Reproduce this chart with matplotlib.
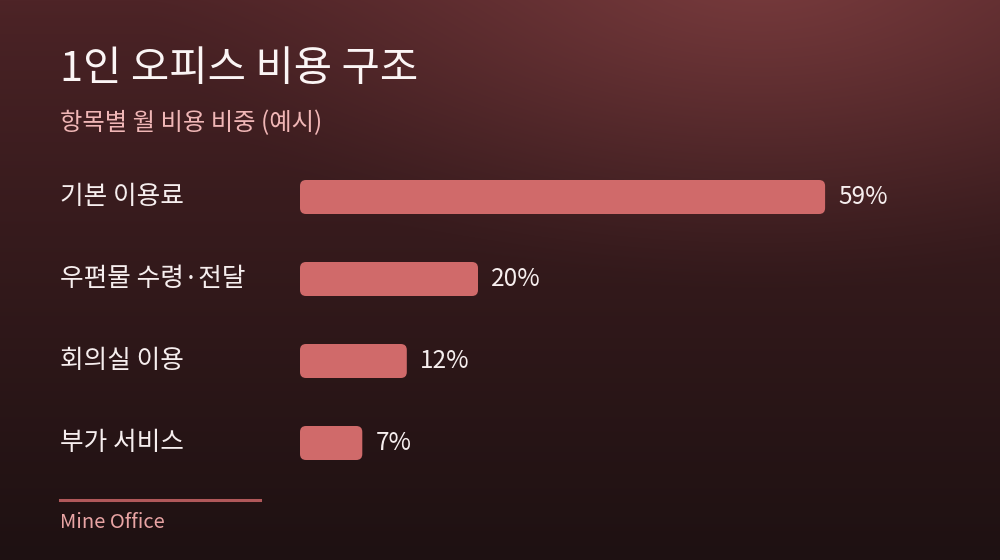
import numpy as np
import matplotlib

matplotlib.use("Agg")
import matplotlib.pyplot as plt
from matplotlib.patches import FancyBboxPatch
from matplotlib.colors import to_rgb
import matplotlib.transforms as mtrans

plt.rcParams["font.family"] = ["Noto Sans CJK KR", "DejaVu Sans"]

TITLE = "1인 오피스 비용 구조"
SUBTITLE = "항목별 월 비용 비중 (예시)"
SOURCE = "Mine Office"
CATEGORIES = ["기본 이용료", "우편물 수령·전달", "회의실 이용", "부가 서비스"]
SHARES = [59, 20, 12, 7]

BAR, INK, PINK, FOOT, RULE = "#d06a6a", "#f6eeee", "#f0b6b6", "#e9a4a4", "#b0585a"
W, H = 1000, 560


def background():
    yy, xx = np.mgrid[0:H, 0:W].astype(float)
    top, bot = np.array(to_rgb("#4e2427")), np.array(to_rgb("#1e1112"))
    t = (yy / H)[..., None] ** 0.8
    img = top * (1 - t) + bot * t
    glow = np.array(to_rgb("#7a3c3e"))
    d = np.sqrt(((xx - 760) / 620) ** 2 + ((yy + 40) / 330) ** 2)
    a = np.clip(1 - d, 0, 1)[..., None] ** 1.3
    return img * (1 - a) + glow * a


def main() -> None:
    fig = plt.figure(figsize=(W / 100, H / 100), dpi=100)
    bg = fig.add_axes([0, 0, 1, 1])
    bg.imshow(background(), aspect="auto", extent=(0, W, H, 0))
    bg.set_axis_off()

    # bar panel in pixel terms: x0=300px, 8.9px per %, rows 82px apart from y=156
    ax = fig.add_axes([300 / W, 1 - 484 / H, 890 / W, 328 / H])
    ax.set_xlim(0, 100)
    ax.set_ylim(len(CATEGORIES) - 0.5, -0.5)
    ax.set_axis_off()
    ax.patch.set_alpha(0)

    ypos = np.arange(len(CATEGORIES))
    bars = ax.barh(ypos, SHARES, height=34 / 82, color=BAR)
    aspect = (890 / 100) / 82
    for b in bars:
        b.set_visible(False)
        x, y, w, h = b.get_x(), b.get_y(), b.get_width(), b.get_height()
        ax.add_patch(FancyBboxPatch((x, y), w, h,
                                    boxstyle=f"round,pad=0,rounding_size={6 / 8.9}",
                                    mutation_aspect=aspect, fc=BAR, ec="none"))

    lab_tr = mtrans.blended_transform_factory(fig.transFigure, ax.transData)
    for y, cat, v in zip(ypos, CATEGORIES, SHARES):
        ax.text(60 / W, y, cat, transform=lab_tr, ha="left", va="center",
                fontsize=18.5, color=INK)
        ax.annotate(f"{v}%", (v, y), xytext=(9.5, 0), textcoords="offset points",
                    ha="left", va="center", fontsize=17.5, color=INK)

    fig.text(60 / W, 1 - 70 / H, TITLE, fontsize=30, color="#fbf5f5",
             ha="left", va="center")
    fig.text(60 / W, 1 - 123 / H, SUBTITLE, fontsize=17.5, color=PINK,
             ha="left", va="center")
    fig.add_artist(plt.Line2D([60 / W, 260 / W], [1 - 500 / H] * 2,
                              color=RULE, lw=2.2, transform=fig.transFigure))
    fig.text(60 / W, 1 - 522 / H, SOURCE, fontsize=14.5, color=FOOT,
             ha="left", va="center")

    fig.savefig("out.png", dpi=100)


if __name__ == "__main__":
    main()
